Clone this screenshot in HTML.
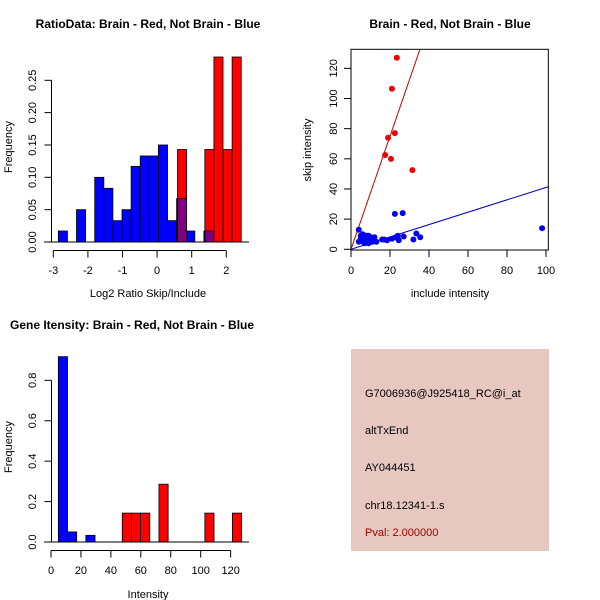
<!DOCTYPE html>
<html><head><meta charset="utf-8"><style>
body{margin:0;background:#fff}
svg{display:block;font-family:"Liberation Sans",sans-serif}
</style></head><body>
<svg id="c" width="600" height="600" viewBox="0 0 600 600">
<rect width="600" height="600" fill="#fff"/>
<text x="148" y="28" font-size="12" font-weight="bold" text-anchor="middle">RatioData: Brain - Red, Not Brain - Blue</text>
<text x="450" y="28" font-size="12" font-weight="bold" text-anchor="middle">Brain - Red, Not Brain - Blue</text>
<text x="10" y="329" font-size="12" font-weight="bold">Gene Itensity: Brain - Red, Not Brain - Blue</text>
<text x="148" y="297" font-size="11" text-anchor="middle">Log2 Ratio Skip/Include</text>
<text x="12" y="147" font-size="11" text-anchor="middle" transform="rotate(-90 12 147)">Frequency</text>
<text x="450" y="297" font-size="11" text-anchor="middle">include intensity</text>
<text x="311" y="150" font-size="11" text-anchor="middle" transform="rotate(-90 311 150)">skip intensity</text>
<text x="148" y="598" font-size="11" text-anchor="middle">Intensity</text>
<text x="12" y="447" font-size="11" text-anchor="middle" transform="rotate(-90 12 447)">Frequency</text>
<rect x="351" y="349" width="198" height="202" fill="#e6c8c1"/>
<g font-size="11">
<text x="365" y="397">G7006936@J925418_RC@i_at</text>
<text x="365" y="434">altTxEnd</text>
<text x="365" y="471">AY044451</text>
<text x="365" y="509">chr18.12341-1.s</text>
<text x="365" y="536" fill="#a00000">Pval: 2.000000</text>
</g>
<g id="g1"></g><g id="g2"></g><g id="g3"></g>
</svg>
<script>
// Panel 1 data
const ratioBlueStart = -2.855, ratioBin = 0.263;
const ratioBlue = [0.017,0,0.05,0,0.10,0.083,0.033,0.05,0.117,0.133,0.133,0.15,0.033,0.067,0.017,0,0.017];
const ratioRedStart = 0.59;
const ratioRed = [0.143,0,0,0.143,0.286,0.143,0.286];
const ratioXTicks = [-3,-2,-1,0,1,2];
const ratioYTicks = [0,0.05,0.10,0.15,0.20,0.25];
const ratioYLabels = ["0.00","0.05","0.10","0.15","0.20","0.25"];
// Panel 2 data
const redX = [17.5,19,20.5,21,22.5,23.5,31.5];
const redY = [62.5,74,60,106.5,77,127,52.5];
const blueX = [4,4,5,5,6,6,6,7,7,7,8,8,8,9,9,9,10,10,10,11,11,12,12,13,5,6,7,8,9,10,11,16,17,18.5,21,22.5,23,24,24.5,26.5,27,32,33.5,35.5,98];
const blueY = [13,5,9,6,8,5,10,7,4,9,6,8,5,7,9,4,6,8,5,7,5,6,8,5,7,6,8,9,5,7,6,6.5,6.5,6,7,23.5,8,9,6,24,8.5,6.5,10.5,8,14];
const redSlope = 3.75, blueSlope = 0.41;
const scXTicks = [0,20,40,60,80,100];
const scYTicks = [0,20,40,60,80,100,120];
// Panel 3 data
const intBlueStart = 4.9, intBin = 6.13;
const intBlue = [0.917,0.05,0,0.033];
const intRedStart = 47.6;
const intRed = [0.143,0.143,0.143,0,0.286,0,0,0,0,0.143,0,0,0.143];
const intXTicks = [0,20,40,60,80,100,120];
const intYTicks = [0,0.2,0.4,0.6,0.8];
const intYLabels = ["0.0","0.2","0.4","0.6","0.8"];

const NS="http://www.w3.org/2000/svg";
function mk(p,tag,a){const e=document.createElementNS(NS,tag);for(const k in a)e.setAttribute(k,a[k]);p.appendChild(e);return e;}

// ---------- Panel 1 ----------
(function(){
const g=document.getElementById('g1');
const X=v=>53.3+(v+3)*34.6, Y=v=>242-v*646.8;
const redLo=[], redHi=[];
ratioBlue.forEach((h,i)=>{ if(h<=0) return;
  const x0=X(ratioBlueStart+i*ratioBin), x1=X(ratioBlueStart+(i+1)*ratioBin);
  const r=mk(g,'rect',{x:x0,y:Y(h),width:x1-x0,height:Y(0)-Y(h),fill:'#0000ff',stroke:'#000','stroke-width':0.8});
  
  
});
ratioRed.forEach((h,i)=>{ if(h<=0) return;
  const a=ratioRedStart+i*ratioBin, b=a+ratioBin;
  const x0=X(a), x1=X(b);
  const r=mk(g,'rect',{x:x0,y:Y(h),width:x1-x0,height:Y(0)-Y(h),fill:'#ff0000',stroke:'#000','stroke-width':0.8});
  
  
  // overlap with blue
  const mid=(a+b)/2, bi=Math.floor((mid-ratioBlueStart)/ratioBin);
  const bh=ratioBlue[bi]||0;
  if(bh>0){
    const o=mk(g,'rect',{x:x0,y:Y(Math.min(bh,h)),width:x1-x0,height:Y(0)-Y(Math.min(bh,h)),fill:'#7f007f',stroke:'#000','stroke-width':0.8});
    
    
  }
});
const bl=mk(g,'line',{x1:44,y1:242,x2:249,y2:242,stroke:'#000'});


const xa=mk(g,'line',{x1:X(ratioXTicks[0]),y1:250.5,x2:X(ratioXTicks[ratioXTicks.length-1]),y2:250.5,stroke:'#000'});


ratioXTicks.forEach(t=>{
  mk(g,'line',{x1:X(t),y1:250.5,x2:X(t),y2:257.5,stroke:'#000'});
  const tx=mk(g,'text',{x:X(t),y:274,'font-size':11,'text-anchor':'middle'});tx.textContent=t;
  
  
});
const ya=mk(g,'line',{x1:51.5,y1:Y(0),x2:51.5,y2:Y(0.25),stroke:'#000'});


ratioYTicks.forEach((t,i)=>{
  mk(g,'line',{x1:44.5,y1:Y(t),x2:51.5,y2:Y(t),stroke:'#000'});
  const tx=mk(g,'text',{x:36,y:Y(t),'font-size':11,'text-anchor':'middle',transform:`rotate(-90 36 ${Y(t)})`});tx.textContent=ratioYLabels[i];
  
  
});
})();

// ---------- Panel 2 ----------
(function(){
const g=document.getElementById('g2');
const X=v=>351+v*1.95, Y=v=>249.3-v*1.508;
const box=mk(g,'rect',{x:351,y:49.3,width:197.3,height:200.7,fill:'none',stroke:'#000'});


mk(g,'clipPath',{id:'cp'}).appendChild(document.createElementNS(NS,'rect'));
const cr=g.querySelector('#cp rect');cr.setAttribute('x',351);cr.setAttribute('y',49.3);cr.setAttribute('width',197.3);cr.setAttribute('height',200.7);
const rl=mk(g,'line',{x1:X(0),y1:Y(0),x2:X(40),y2:Y(40*redSlope),stroke:'#c00000','clip-path':'url(#cp)'});


const bln=mk(g,'line',{x1:X(0),y1:Y(0),x2:X(102),y2:Y(102*blueSlope),stroke:'#0000c0','clip-path':'url(#cp)'});


blueX.forEach((x,i)=>{
  const c=mk(g,'circle',{cx:X(x),cy:Y(blueY[i]),r:3,fill:'#0000ee'});
  
  
});
redX.forEach((x,i)=>{
  const c=mk(g,'circle',{cx:X(x),cy:Y(redY[i]),r:3,fill:'#ee0000'});
  
  
});
scXTicks.forEach(t=>{
  mk(g,'line',{x1:X(t),y1:250,x2:X(t),y2:257,stroke:'#000'});
  const tx=mk(g,'text',{x:X(t),y:274,'font-size':11,'text-anchor':'middle'});tx.textContent=t;
  
  
});
scYTicks.forEach(t=>{
  mk(g,'line',{x1:344,y1:Y(t),x2:351,y2:Y(t),stroke:'#000'});
  const tx=mk(g,'text',{x:337,y:Y(t),'font-size':11,'text-anchor':'middle',transform:`rotate(-90 337 ${Y(t)})`});tx.textContent=t;
  
  
});
})();

// ---------- Panel 3 ----------
(function(){
const g=document.getElementById('g3');
const X=v=>51+v*1.497, Y=v=>542-v*202.1;
function bars(arr,start,col,name){
  arr.forEach((h,i)=>{ if(h<=0) return;
    const x0=X(start+i*intBin), x1=X(start+(i+1)*intBin);
    const r=mk(g,'rect',{x:x0,y:Y(h),width:x1-x0,height:Y(0)-Y(h),fill:col,stroke:'#000','stroke-width':0.8});
    
    
  });
}
bars(intBlue,intBlueStart,'#0000ff','intensity-blue-bar');
bars(intRed,intRedStart,'#ff0000','intensity-red-bar');
const bl=mk(g,'line',{x1:44,y1:542,x2:249,y2:542,stroke:'#000'});


const xa=mk(g,'line',{x1:X(0),y1:550.5,x2:X(120),y2:550.5,stroke:'#000'});


intXTicks.forEach(t=>{
  mk(g,'line',{x1:X(t),y1:550.5,x2:X(t),y2:557.5,stroke:'#000'});
  const tx=mk(g,'text',{x:X(t),y:574,'font-size':11,'text-anchor':'middle'});tx.textContent=t;
  
  
});
const ya=mk(g,'line',{x1:51.5,y1:Y(0),x2:51.5,y2:Y(0.8),stroke:'#000'});


intYTicks.forEach((t,i)=>{
  mk(g,'line',{x1:44.5,y1:Y(t),x2:51.5,y2:Y(t),stroke:'#000'});
  const tx=mk(g,'text',{x:36,y:Y(t),'font-size':11,'text-anchor':'middle',transform:`rotate(-90 36 ${Y(t)})`});tx.textContent=intYLabels[i];
  
  
});
})();
</script>
</body></html>
